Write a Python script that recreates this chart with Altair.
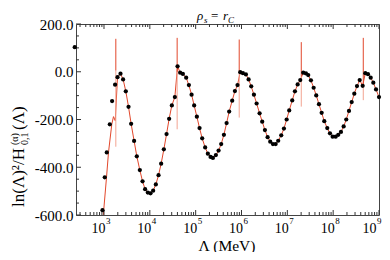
import altair as alt
import pandas as pd

# ---- data ----
lam_exp = [2.362, 2.967, 3.017, 3.061, 3.127, 3.177, 3.242, 3.295, 3.360, 3.417,
           3.476, 3.535, 3.592, 3.657, 3.716, 3.782, 3.841, 3.897, 3.956, 4.015,
           4.072, 4.131, 4.190, 4.247, 4.306, 4.365, 4.421, 4.480, 4.546, 4.605,
           4.662, 4.721, 4.793, 4.852, 4.911, 4.967, 5.026, 5.085, 5.142, 5.207,
           5.266, 5.325, 5.376, 5.441, 5.500, 5.557, 5.616, 5.675, 5.731, 5.797,
           5.856, 5.913, 5.972, 6.031, 6.096, 6.155, 6.212, 6.271, 6.330, 6.395,
           6.452, 6.511, 6.570, 6.627, 6.686, 6.745, 6.801, 6.867, 6.926, 6.985,
           7.041, 7.107, 7.166, 7.225, 7.282, 7.347, 7.406, 7.456, 7.515, 7.574,
           7.631, 7.690, 7.749, 7.806, 7.871, 7.930, 7.989, 8.055, 8.111, 8.170,
           8.229, 8.286, 8.345, 8.404, 8.461, 8.520, 8.579, 8.644, 8.701, 8.760,
           8.819, 8.876, 8.935, 9.000]
ratio = [103, -580, -442, -338, -220, -123, -54, -23, -8, -32,
         -82, -147, -218, -290, -354, -412, -459, -492, -506, -509,
         -498, -472, -433, -385, -325, -261, -197, -141, -106, 23,
         -4, -9, -25, -56, -96, -141, -188, -236, -279, -317,
         -343, -357, -361, -349, -330, -303, -264, -215, -167, -121,
         -81, -56, -2, -6, -11, -32, -61, -96, -133, -174,
         -209, -244, -274, -293, -303, -303, -289, -266, -238, -200,
         -162, -120, -82, -53, -35, -4, -7, -14, -36, -67,
         -99, -136, -172, -207, -236, -258, -272, -272, -264, -252,
         -229, -200, -164, -127, -92, -60, -35, -59, -6, -10,
         -25, -46, -74, -106]

# red curve: its own start, then it follows the dots
red_exp_head = [2.985, 3.055, 3.098, 3.170, 3.207, 3.245]
red_val_head = [-600, -442, -338, -220, -188, -205]

# spikes of the red curve
spike_exp = [3.258, 4.596, 5.950, 7.304, 8.657]
spike_top = [138, 142, 135, 124, 142]
spike_mid = [5, 0, 0, -20, -60]
spike_bot = [-314, -241, -192, -146, -119]

x_major = [1e3, 1e4, 1e5, 1e6, 1e7, 1e8, 1e9]
x_label_exp = ["3", "4", "5", "6", "7", "8", "9"]
x_minor = [k * 10 ** d for d in range(2, 9) for k in range(2, 10) if k * 10 ** d >= 245]
y_major = [-600, -400, -200, 0, 200]
y_minor = [v for v in range(-550, 200, 50) if v % 200 != 0]

W, H = 303, 191
FONT = "Liberation Serif"
LINE = "#e2472b"
LIGHT = "#f3a391"
TICK = "#333333"

pts = pd.DataFrame({"lam": [10 ** e for e in lam_exp], "r": ratio})
red_e = red_exp_head + lam_exp[7:]
red = pd.DataFrame({"lam": [10 ** e for e in red_e], "r": red_val_head + ratio[7:]})
spk = pd.DataFrame({"lam": [10 ** e for e in spike_exp], "r": spike_mid,
                    "top": spike_top, "bot": spike_bot})

xsc = alt.Scale(type="log", domain=[245, 1e9], nice=False)
ysc = alt.Scale(domain=[-600, 200], nice=False, zero=False)
yaxis = alt.Axis(
    values=y_major,
    labelExpr="datum.value < 0 ? '-' + format(-datum.value, '.1f') : format(datum.value, '.1f')",
    ticks=False, domain=False, grid=False, labelFont=FONT, labelFontSize=15,
    labelPadding=3, labelColor="black", title=None)
X = alt.X("lam:Q", scale=xsc, axis=None)
Y = alt.Y("r:Q", scale=ysc, axis=yaxis)

line = alt.Chart(red).mark_line(color=LINE, strokeWidth=1, clip=True).encode(x=X, y=Y)
sp_up = alt.Chart(spk).mark_rule(color=LINE, strokeWidth=1).encode(x=X, y=Y, y2="top:Q")
sp_dn = alt.Chart(spk).mark_rule(color=LIGHT, strokeWidth=1).encode(x=X, y=Y, y2="bot:Q")
dots = alt.Chart(pts).mark_circle(color="black", opacity=1, size=18).encode(x=X, y=Y)

xmaj = pd.DataFrame({"lam": x_major, "t": x_label_exp})
xmin = pd.DataFrame({"lam": x_minor})
ymaj = pd.DataFrame({"r": y_major})
ymin = pd.DataFrame({"r": y_minor})

def xticks(df, y0, y1):
    return alt.Chart(df).mark_rule(color=TICK, strokeWidth=1).encode(
        x=X, y=alt.value(y0), y2=alt.value(y1))

def yticks(df, x0, x1):
    return alt.Chart(df).mark_rule(color=TICK, strokeWidth=1).encode(
        y=Y, x=alt.value(x0), x2=alt.value(x1))

ticks = [xticks(xmaj, H, H - 5), xticks(xmin, H, H - 3),
         xticks(xmaj, 0, 5), xticks(xmin, 0, 3),
         yticks(ymaj, 0, 5), yticks(ymin, 0, 3)]

def xlabels(df, shift):
    a = alt.Chart(df).mark_text(text="10", font=FONT, fontSize=14, align="right",
                                baseline="alphabetic", dx=1.5 + shift, color="black").encode(
        x=X, y=alt.value(H + 18))
    b = alt.Chart(df).mark_text(font=FONT, fontSize=9, align="left",
                                baseline="alphabetic", dx=2 + shift, color="black").encode(
        x=X, y=alt.value(H + 9), text="t:N")
    return [a, b]

xlabs = xlabels(xmaj.iloc[:-1], 0) + xlabels(xmaj.iloc[-1:], -4)

def txt(s, x, y, size, style="normal", align="left", angle=0):
    return alt.Chart(pd.DataFrame({"s": [s]})).mark_text(
        font=FONT, fontSize=size, fontStyle=style, align=align, baseline="alphabetic",
        angle=angle, color="black").encode(text="s:N", x=alt.value(x), y=alt.value(y))

xtitle = txt("Λ (MeV)", 151, H + 35.5, 15.5, align="center")

title = [txt("ρ", 121, -4, 13, "italic"), txt("s", 128, -1.5, 9, "italic"),
         txt("=", 135, -4, 13), txt("r", 147, -4, 13, "italic"),
         txt("C", 152, -1.5, 9, "italic")]

# y title pieces, rotated
yb = -52
ylab = [txt("ln(Λ)²/H", yb, 183, 17, angle=270),
        txt("(α)", yb - 6, 183 - 62, 10, angle=270),
        txt("0,1", yb + 4, 183 - 62, 10, angle=270),
        txt("(Λ)", yb, 183 - 77, 17, angle=270)]

chart = alt.layer(line, sp_dn, sp_up, *ticks, dots, *xlabs, xtitle, *title, *ylab).properties(
    width=W, height=H,
    padding={"left": 68, "top": 16, "right": 3, "bottom": 37},
    autosize=alt.AutoSizeParams(type="none"),
).configure_view(stroke="#444444", strokeWidth=1)

chart.save("out.html", embed_options={"renderer": "svg", "actions": False})
